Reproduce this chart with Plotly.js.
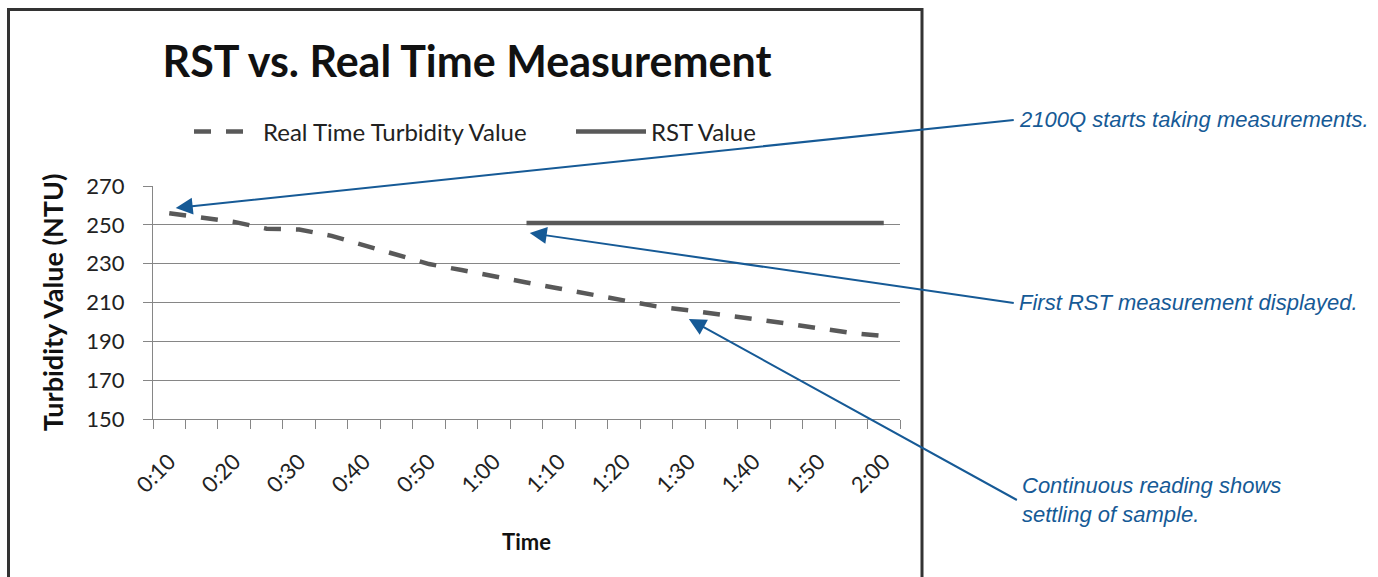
<!DOCTYPE html>
<html>
<head>
<meta charset="utf-8">
<script src="https://cdn.plot.ly/plotly-3.0.1.min.js"></script>
<style>
  html, body { margin: 0; padding: 0; background: #ffffff; }
  #chart { width: 1378px; height: 577px; }
</style>
</head>
<body>
<div id="chart"></div>
<script>
// ---- data ----
const timeCategories = ["0:10","0:15","0:20","0:25","0:30","0:35","0:40","0:45","0:50","0:55",
  "1:00","1:05","1:10","1:15","1:20","1:25","1:30","1:35","1:40","1:45","1:50","1:55","2:00"];
const realTimeValues = [256, 253.5, 251.5, 248, 247.6, 244.3, 239.6, 234.5, 229.8, 226.7,
  223.3, 220.3, 217.2, 214.1, 211.3, 208, 206, 203.5, 201.5, 199.2, 196.6, 194.3, 192.7];
const rstValues = [null, null, null, null, null, null, null, null, null, null,
  null, 251, 251, 251, 251, 251, 251, 251, 251, 251, 251, 251, 251];
const tickLabels = timeCategories.map((t, i) => (i % 2 === 0 ? t : ""));
const seriesNames = ["Real Time Turbidity Value", "RST Value"];
const yTicks = [150, 170, 190, 210, 230, 250, 270];

// ---- layout helpers ----
const W = 1378, H = 577;
const M = { l: 153, r: 478, t: 186, b: 158 };
const pw = W - M.l - M.r, ph = H - M.t - M.b;
const px2paperX = px => (px - M.l) / pw;
const px2paperY = py => (H - M.b - py) / ph;

const chartFont = "Lato, 'Open Sans', sans-serif";
const noteFont = "'Liberation Sans', Arial, Helvetica, sans-serif";
const lineGray = "#595959";
const axisGray = "#868686";
const noteBlue = "#165a96";

const traces = [
  {
    type: "scatter", mode: "lines", name: seriesNames[0],
    x: timeCategories, y: realTimeValues,
    line: { color: lineGray, width: 4.5, dash: "17px,15px" },
    legend: "legend",
    hoverinfo: "skip"
  },
  {
    type: "scatter", mode: "lines", name: seriesNames[1],
    x: timeCategories, y: rstValues, connectgaps: false,
    line: { color: lineGray, width: 4.5 },
    legend: "legend2",
    hoverinfo: "skip"
  }
];

const noteStyle = {
  xref: "x", yref: "y", showarrow: true, arrowhead: 2, arrowsize: 1.7, arrowwidth: 2,
  arrowcolor: noteBlue, xanchor: "left", yanchor: "middle", align: "left",
  borderpad: 4,
  font: { family: noteFont, size: 22, color: noteBlue, style: "italic" }
};

const legendBase = {
  orientation: "h",
  xref: "container", yref: "container",
  xanchor: "left", yanchor: "middle",
  y: 1 - 132 / H,
  font: { family: chartFont, size: 24, color: "#222222" },
  bgcolor: "rgba(0,0,0,0)"
};

const layout = {
  width: W, height: H,
  margin: M,
  paper_bgcolor: "#ffffff", plot_bgcolor: "#ffffff",
  showlegend: true,
  title: {
    text: "RST vs. Real Time Measurement",
    font: { family: chartFont, size: 43, weight: 700, color: "#111111" },
    xref: "container", yref: "container",
    x: 467 / W, xanchor: "center",
    y: 1 - 62 / H, yanchor: "middle"
  },
  legend: Object.assign({}, legendBase, { x: 189 / W, itemwidth: 64 }),
  legend2: Object.assign({}, legendBase, { x: 571 / W, itemwidth: 70 }),
  xaxis: {
    type: "category",
    categoryorder: "array", categoryarray: timeCategories,
    range: [-0.5, timeCategories.length - 0.5], autorange: false,
    tickmode: "array", tickvals: timeCategories, ticktext: tickLabels,
    tickson: "boundaries",
    ticks: "outside", ticklen: 9, tickcolor: axisGray, tickwidth: 1,
    showline: true, linecolor: axisGray, linewidth: 1,
    showgrid: false, zeroline: false,
    tickangle: -45,
    ticklabelstandoff: 20,
    tickfont: { family: chartFont, size: 22, color: "#222222" },
    title: {
      text: "Time",
      font: { family: chartFont, size: 22, weight: 700, color: "#111111" },
      standoff: 37
    },
    fixedrange: true
  },
  yaxis: {
    range: [150, 270], autorange: false,
    tickmode: "array", tickvals: yTicks,
    ticks: "outside", ticklen: 9, tickcolor: axisGray, tickwidth: 1,
    showline: true, linecolor: axisGray, linewidth: 1,
    showgrid: true, gridcolor: axisGray, gridwidth: 1,
    zeroline: false,
    ticklabelstandoff: 14,
    tickfont: { family: chartFont, size: 22, color: "#222222" },
    title: {
      text: "Turbidity Value (NTU)",
      font: { family: chartFont, size: 27, weight: 700, color: "#111111" },
      standoff: 14
    },
    fixedrange: true
  },
  shapes: [
    {
      type: "rect", xref: "paper", yref: "paper",
      x0: px2paperX(8.5), x1: px2paperX(922),
      y0: px2paperY(600), y1: px2paperY(9.5),
      line: { color: "#333333", width: 3 }, fillcolor: "rgba(0,0,0,0)", layer: "below"
    }
  ],
  annotations: [
    Object.assign({}, noteStyle, {
      text: "2100Q starts taking measurements.",
      x: 0.2, y: 258.7, ax: 838, ay: -88
    }),
    Object.assign({}, noteStyle, {
      text: "First RST measurement displayed.",
      x: 11.1, y: 245.8, ax: 484, ay: 70
    }),
    Object.assign({}, noteStyle, {
      text: "Continuous reading shows<br>settling of sample.",
      x: 16, y: 201.5, ax: 328, ay: 181
    })
  ]
};

Plotly.newPlot("chart", traces, layout, { displayModeBar: false, staticPlot: true });
</script>
</body>
</html>
